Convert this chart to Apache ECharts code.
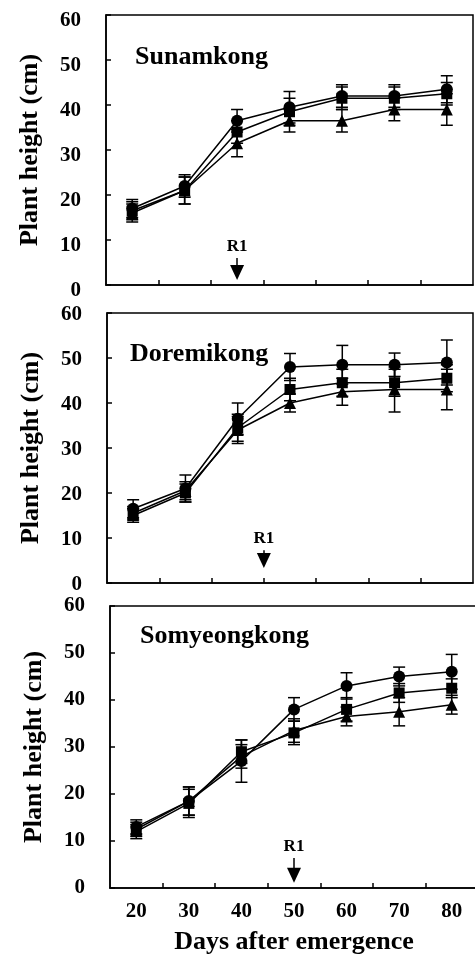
<!DOCTYPE html>
<html><head><meta charset="utf-8">
<script src="https://cdn.jsdelivr.net/npm/echarts@6/dist/echarts.min.js"></script>
<style>html,body{margin:0;padding:0;background:#fff}#c{width:475px;height:956px}</style>
</head><body><div id="c"></div><script>
// ---- data ----
const days = [20, 30, 40, 50, 60, 70, 80];
const panelNames = ['Sunamkong', 'Doremikong', 'Somyeongkong'];
const xLabelValues = [20, 30, 40, 50, 60, 70, 80];
const xMinorTicks = [25, 35, 45, 55, 65, 75];
const yTickValues = [0, 10, 20, 30, 40, 50, 60];

const sunCircle   = [17, 22, 36.5, 39.5, 42, 42, 43.5];
const sunSquare   = [16.5, 21, 34, 38.5, 41.5, 41.5, 42.5];
const sunTriangle = [16, 21, 31.5, 36.5, 36.5, 39, 39];
const sunCircleErr   = [2, 2.5, 2.5, 3.5, 2.5, 2.5, 3];
const sunSquareErr   = [2, 3, 2.5, 3, 2.5, 2.5, 2.5];
const sunTriangleErr = [2, 3, 3, 2.5, 2.5, 2.5, 3.5];

const doreCircle   = [16.5, 21, 36.5, 48, 48.5, 48.5, 49];
const doreSquare   = [15, 20, 34.5, 43, 44.5, 44.5, 45.5];
const doreTriangle = [15.5, 20.5, 34, 40, 42.5, 43, 43];
const doreCircleErr   = [2, 3, 3.5, 3, 4.3, 2.6, 5];
const doreSquareErr   = [1.5, 2, 3, 2.5, 3, 3, 3];
const doreTriangleErr = [1.5, 2, 3, 2, 3, 5, 4.5];

const somCircle   = [13, 18.5, 27, 38, 43, 45, 46];
const somSquare   = [12, 18, 29, 33, 38, 41.5, 42.5];
const somTriangle = [12.5, 18.5, 28, 33.5, 36.5, 37.5, 39];
const somCircleErr   = [1.5, 3, 4.5, 2.5, 2.8, 2, 3.7];
const somSquareErr   = [1.5, 3, 2.5, 2.5, 2.5, 2, 2];
const somTriangleErr = [1.5, 3, 2.5, 2.5, 2, 3, 2];

// R1 annotation (day, arrow start value, arrow head value)
const r1Days  = [40, 45, 50];
const r1Start = [6, 7.3, 6.4];
const r1Head  = [2.8, 5, 2.7];

// ---- build ----
const FONT = "'Liberation Serif','Times New Roman',serif";
const panels = [
  [sunCircle, sunSquare, sunTriangle, sunCircleErr, sunSquareErr, sunTriangleErr],
  [doreCircle, doreSquare, doreTriangle, doreCircleErr, doreSquareErr, doreTriangleErr],
  [somCircle, somSquare, somTriangle, somCircleErr, somSquareErr, somTriangleErr]
];
const grids = [
  {left: 106, top: 15, width: 367, height: 270},
  {left: 107, top: 313, width: 366, height: 270},
  {left: 110, top: 606, width: 368, height: 282}
];
const titleTops = [44, 341, 623];
const titleLefts = [135, 130, 140];
const labelPadTop = [12, 3, 0];
const symbols = ['circle', 'rect', 'triangle'];
const symSizes = [12, 11, 12];

function errRender(params, api) {
  const x = api.value(0), lo = api.value(1), hi = api.value(2);
  const p1 = api.coord([x, hi]), p2 = api.coord([x, lo]);
  const w = 6;
  const st = {stroke: '#000', lineWidth: 1.5};
  return {type: 'group', children: [
    {type: 'line', shape: {x1: p1[0], y1: p1[1], x2: p2[0], y2: p2[1]}, style: st},
    {type: 'line', shape: {x1: p1[0] - w, y1: p1[1], x2: p1[0] + w, y2: p1[1]}, style: st},
    {type: 'line', shape: {x1: p2[0] - w, y1: p2[1], x2: p2[0] + w, y2: p2[1]}, style: st}
  ]};
}

const option = {
  animation: false,
  backgroundColor: '#fff',
  title: panelNames.map((n, i) => ({
    text: n, left: titleLefts[i], top: titleTops[i], padding: 0,
    textStyle: {fontFamily: FONT, fontWeight: 'bold', fontSize: 26, color: '#000'}
  })),
  grid: grids.map(g => Object.assign({show: true, borderColor: '#000', borderWidth: 1.5,
    backgroundColor: 'transparent', containLabel: false, outerBoundsMode: 'none'}, g)),
  xAxis: grids.map((g, i) => ({
    type: 'value', gridIndex: i, min: 15, max: 85,
    axisLine: {show: true, lineStyle: {color: '#000', width: 1.5}},
    axisTick: {show: true, inside: true, length: 5, customValues: xMinorTicks, lineStyle: {color: '#000', width: 1.5}},
    axisLabel: {show: i === 2, customValues: xLabelValues, margin: 13,
      fontFamily: FONT, fontWeight: 'bold', fontSize: 21, color: '#000'},
    splitLine: {show: false},
    name: i === 2 ? 'Days after emergence' : '',
    nameLocation: 'middle', nameGap: 41,
    nameTextStyle: {fontFamily: FONT, fontWeight: 'bold', fontSize: 26, color: '#000'}
  })),
  yAxis: grids.map((g, i) => ({
    type: 'value', gridIndex: i, min: 0, max: 60, interval: 10,
    axisLine: {show: true, lineStyle: {color: '#000', width: 1.5}},
    axisTick: {show: true, inside: true, length: 5, lineStyle: {color: '#000', width: 1.5}},
    axisLabel: {show: true, margin: 25, customValues: yTickValues,
      formatter: '{a|{value}}',
      rich: {a: {fontFamily: FONT, fontWeight: 'bold', fontSize: 21, color: '#000',
        padding: [labelPadTop[i], 0, 0, 0]}}},
    splitLine: {show: false},
    name: 'Plant height (cm)', nameLocation: 'middle', nameGap: 63, nameRotate: 90,
    nameTextStyle: {fontFamily: FONT, fontWeight: 'bold', fontSize: 26, color: '#000'}
  })),
  series: []
};

panels.forEach((p, i) => {
  for (let s = 0; s < 3; s++) {
    const vals = p[s], errs = p[s + 3];
    option.series.push({
      type: 'custom', xAxisIndex: i, yAxisIndex: i, z: 1,
      renderItem: errRender, encode: {x: 0, y: [1, 2]},
      data: days.map((d, k) => [d, vals[k] - errs[k], vals[k] + errs[k]])
    });
  }
  for (let s = 0; s < 3; s++) {
    const ser = {
      type: 'line', xAxisIndex: i, yAxisIndex: i, z: 3,
      symbol: symbols[s], symbolSize: symSizes[s], showSymbol: true,
      itemStyle: {color: '#000'}, lineStyle: {color: '#000', width: 1.5},
      data: days.map((d, k) => [d, p[s][k]])
    };
    if (s === 2) {
      ser.markLine = {
        silent: true, animation: false,
        symbol: ['none', 'triangle'], symbolSize: [14, 15],
        lineStyle: {color: '#000', width: 1.5, type: 'solid'},
        label: {show: true, position: 'start', distance: 3, formatter: 'R1',
          fontFamily: FONT, fontWeight: 'bold', fontSize: 17, color: '#000'},
        data: [[{coord: [r1Days[i], r1Start[i]]}, {coord: [r1Days[i], r1Head[i]]}]]
      };
    }
    option.series.push(ser);
  }
});

const chart = echarts.init(document.getElementById('c'), null, {renderer: 'canvas'});
chart.setOption(option);
</script></body></html>
